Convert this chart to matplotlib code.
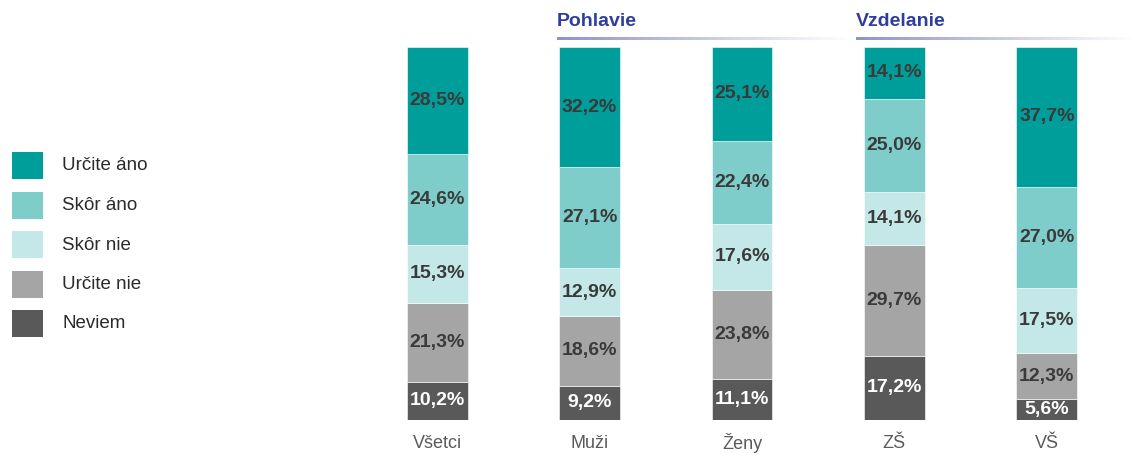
import numpy as np
import matplotlib.pyplot as plt
from matplotlib.patches import Rectangle
from matplotlib.colors import LinearSegmentedColormap

# Data
categories = ["Všetci", "Muži", "Ženy", "ZŠ", "VŠ"]
series = ["Určite áno", "Skôr áno", "Skôr nie", "Určite nie", "Neviem"]
urcite_ano = [28.5, 32.2, 25.1, 14.1, 37.7]
skor_ano = [24.6, 27.1, 22.4, 25.0, 27.0]
skor_nie = [15.3, 12.9, 17.6, 14.1, 17.5]
urcite_nie = [21.3, 18.6, 23.8, 29.7, 12.3]
neviem = [10.2, 9.2, 11.1, 17.2, 5.6]

colors = ["#009E9A", "#7FCDCB", "#C4E8E8", "#A5A5A5", "#595959"]
label_colors = ["#3a3a3a", "#3a3a3a", "#3a3a3a", "#3a3a3a", "#ffffff"]

plt.rcParams['font.family'] = ['Liberation Sans', 'DejaVu Sans']

W, H = 1135, 455
fig = plt.figure(figsize=(W / 100, H / 100), dpi=100)
ax = fig.add_axes([361 / W, 35 / H, (1123 - 361) / W, 373 / H])

x = np.arange(len(categories))
stack_order = [neviem, urcite_nie, skor_nie, skor_ano, urcite_ano]
stack_colors = colors[::-1]
stack_lbl = label_colors[::-1]
bottom = np.zeros(len(categories))
for vals, col, lc in zip(stack_order, stack_colors, stack_lbl):
    vals = np.array(vals)
    ax.bar(x, vals, bottom=bottom, width=0.4, color=col, edgecolor="white", linewidth=0.4)
    for xi, v, b in zip(x, vals, bottom):
        ax.text(xi, b + v / 2, f"{v:.1f}%".replace(".", ","), ha="center", va="center",
                fontsize=14, fontweight="bold", color=lc)
    bottom += vals

ax.set_xlim(-0.5, 4.5)
ax.set_ylim(0, 100)
ax.axis("off")
for xi, c in zip(x, categories):
    ax.text(xi, -6.3, c, ha="center", va="center", fontsize=13, color="#5a5a5a")

# Group headers with fading underline
def header(text, x0, x1):
    fig.text(x0 / W, 1 - 22 / H, text, ha="left", va="center", fontsize=14,
             fontweight="bold", color="#2F3D9C")
    gax = fig.add_axes([x0 / W, 1 - 40 / H, (x1 - x0) / W, 3 / H])
    grad = np.linspace(0, 1, 256).reshape(1, -1)
    cmap = LinearSegmentedColormap.from_list("g", ["#8E93C8", "#ffffff"])
    gax.imshow(grad, aspect="auto", cmap=cmap)
    gax.axis("off")

header("Pohlavie", 557, 850)
header("Vzdelanie", 856, 1135)

# Legend
for i, (s, c) in enumerate(zip(series, colors)):
    ytop = 152 + i * 39.5
    fig.patches.append(Rectangle((12 / W, 1 - (ytop + 27) / H), 31 / W, 27 / H,
                                 transform=fig.transFigure, facecolor=c, edgecolor="none"))
    fig.text(62 / W, 1 - (ytop + 14) / H, s, ha="left", va="center", fontsize=13.5, color="#2a2a2a")

fig.savefig("out.png", dpi=100)
